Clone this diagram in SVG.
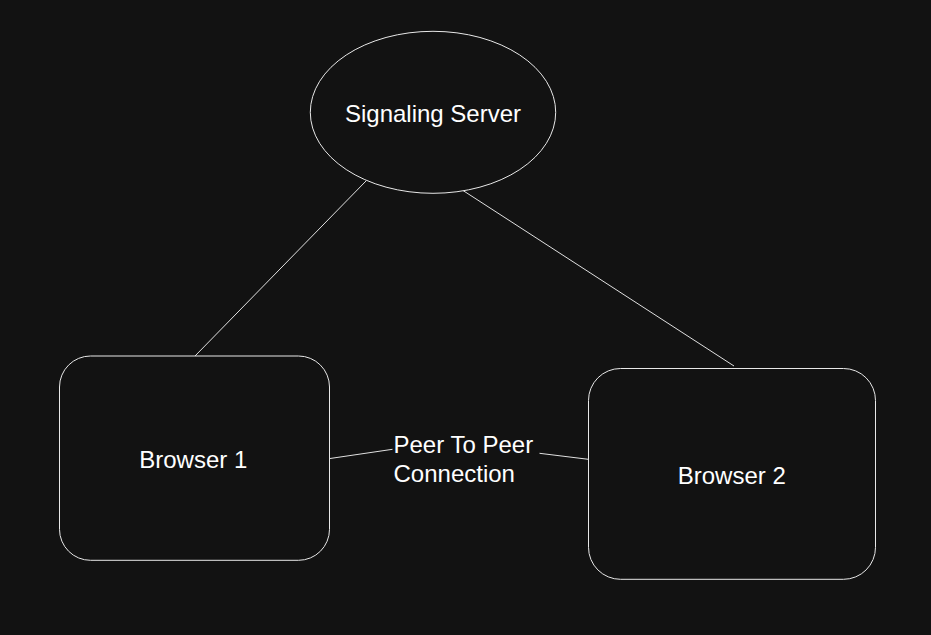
<svg xmlns="http://www.w3.org/2000/svg" width="931" height="635" viewBox="0 0 931 635">
<style>
.shape{fill:#121212;stroke:#e8e8e8;stroke-width:1}
.conn{stroke:#e0e0e0;stroke-width:1;fill:none}
.lbl{font-family:"Liberation Sans",Arial,sans-serif;font-size:24px;fill:#ffffff}
</style>
<rect width="931" height="635" fill="#121212"/>
<g id="connectors">
<line class="conn" x1="366" y1="181" x2="195" y2="356"/>
<line class="conn" x1="463" y1="190.5" x2="734" y2="366"/>
<line class="conn" x1="330" y1="458.5" x2="392.5" y2="449.3"/>
<line class="conn" x1="539.5" y1="453.3" x2="590" y2="459.5"/>
<text class="lbl" x="393.5" y="452.7">Peer To Peer</text>
<text class="lbl" x="393.5" y="481.7">Connection</text>
</g>
<g id="signaling-server">
<ellipse class="shape" cx="433" cy="112.3" rx="122.7" ry="81"/>
<text class="lbl" x="433" y="121.7" text-anchor="middle">Signaling Server</text>
</g>
<g id="browser-1">
<rect class="shape" x="59.5" y="356" width="270" height="204.3" rx="31" ry="31"/>
<text class="lbl" x="193.3" y="467.7" text-anchor="middle">Browser 1</text>
</g>
<g id="browser-2">
<rect class="shape" x="588.5" y="368.5" width="287" height="210.8" rx="32" ry="32"/>
<text class="lbl" x="731.8" y="484" text-anchor="middle">Browser 2</text>
</g>
</svg>
